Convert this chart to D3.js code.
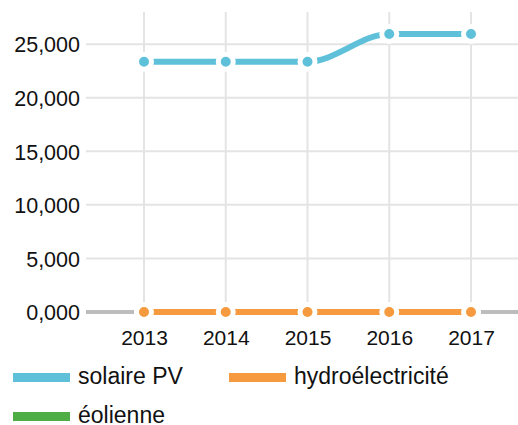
<!DOCTYPE html>
<html>
<head>
<meta charset="utf-8">
<script src="https://cdn.jsdelivr.net/npm/d3@7"></script>
<style>
  html, body { margin: 0; padding: 0; background: #fff; }
  svg { display: block; font-family: "Liberation Sans", Arial, sans-serif; }
</style>
</head>
<body>
<svg id="chart" width="518" height="425"></svg>
<script>
// Data
const years = ["2013", "2014", "2015", "2016", "2017"];
const solairePV = [23350, 23350, 23350, 25950, 25950];
const hydro = [0, 0, 0, 0, 0];
const eolienne = [0, 0, 0, 0, 0];
const yTicks = [0, 5000, 10000, 15000, 20000, 25000];
const yTickLabels = ["0,000", "5,000", "10,000", "15,000", "20,000", "25,000"];

const series = [
  { name: "solaire PV", color: "#5fc1d9", values: solairePV },
  { name: "hydroélectricité", color: "#f59a3e", values: hydro },
  { name: "éolienne", color: "#4fad45", values: eolienne }
];

const svg = d3.select("#chart");
const plot = { left: 86, right: 518, top: 12, bottom: 312 };
const font = "Liberation Sans, Arial, sans-serif";

const x = d3.scalePoint().domain(years).range([144, 471]);
const y = d3.scaleLinear().domain([0, 28000]).range([plot.bottom, plot.top]);

// Grid
const grid = svg.append("g");
grid.selectAll("line.h").data(yTicks.filter(d => d > 0)).join("line")
  .attr("x1", plot.left).attr("x2", plot.right)
  .attr("y1", d => y(d)).attr("y2", d => y(d))
  .attr("stroke", "#e4e4e4").attr("stroke-width", 2);
grid.selectAll("line.v").data(years).join("line")
  .attr("x1", d => x(d)).attr("x2", d => x(d))
  .attr("y1", plot.top).attr("y2", plot.bottom)
  .attr("stroke", "#e4e4e4").attr("stroke-width", 2);

// Zero baseline
svg.append("line")
  .attr("x1", plot.left).attr("x2", plot.right)
  .attr("y1", y(0)).attr("y2", y(0))
  .attr("stroke", "#bdbdbd").attr("stroke-width", 4);

// Y axis labels
const yAxis = d3.axisLeft(y).tickValues(yTicks)
  .tickFormat((d, i) => yTickLabels[i]).tickSize(0).tickPadding(0);
const gy = svg.append("g").attr("transform", "translate(80,0)").call(yAxis);
gy.select(".domain").remove();
gy.selectAll("text").attr("font-size", 21.5).attr("fill", "#111")
  .attr("font-family", font).attr("dy", "0.36em");

// X axis labels
const xAxis = d3.axisBottom(x).tickSize(0).tickPadding(0);
const gx = svg.append("g").attr("transform", "translate(0,330)").call(xAxis);
gx.select(".domain").remove();
gx.selectAll("text").attr("font-size", 21).attr("fill", "#111")
  .attr("font-family", font).attr("dy", "0.71em");

// Lines and points (drawn bottom series first)
const line = d3.line()
  .x((d, i) => x(years[i]))
  .y(d => y(d))
  .curve(d3.curveMonotoneX);

series.slice().reverse().forEach(s => {
  const g = svg.append("g");
  g.append("path").datum(s.values)
    .attr("d", line)
    .attr("fill", "none")
    .attr("stroke", s.color)
    .attr("stroke-width", 6);
  g.selectAll("circle").data(s.values).join("circle")
    .attr("cx", (d, i) => x(years[i]))
    .attr("cy", d => y(d))
    .attr("r", 7.5)
    .attr("fill", s.color)
    .attr("stroke", "#fff")
    .attr("stroke-width", 5);
});

// Legend
const legendPos = [
  { x: 13, y: 377.5 },
  { x: 229, y: 377.5 },
  { x: 13, y: 416.5 }
];
series.forEach((s, i) => {
  const p = legendPos[i];
  const g = svg.append("g").attr("transform", `translate(${p.x},${p.y})`);
  g.append("rect").attr("x", 0).attr("y", -4.5).attr("width", 57).attr("height", 9)
    .attr("fill", s.color);
  g.append("text").attr("x", 65).attr("y", 6.5)
    .attr("font-size", 23).attr("fill", "#111").attr("font-family", font).text(s.name);
});
</script>
</body>
</html>
